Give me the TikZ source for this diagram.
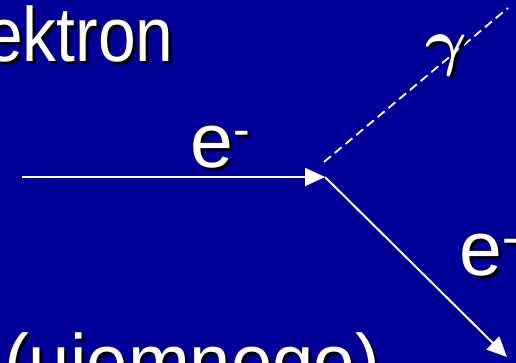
\documentclass[tikz,border=0pt]{standalone}
\usepackage{fontspec}
\setmainfont{Liberation Sans}
\usetikzlibrary{arrows.meta}
\definecolor{slidebg}{RGB}{0,0,153}
\newcommand{\elec}{e\raisebox{21pt}{\fontsize{50}{50}\selectfont -}}
\newcommand{\photon}{\scalebox{6.4}{\boldmath$\gamma$}}
\begin{document}
\begin{tikzpicture}[x=1pt, y=-1pt, >={Triangle[length=20pt,width=18pt]},
    txt/.style={font=\fontsize{77}{77}\selectfont, text=white, inner sep=0pt, anchor=base west},
    shade/.style={txt, text=black, xshift=3pt, yshift=-3pt}]
    \clip (0,0) rectangle (516,363);
    \fill[slidebg] (0,0) rectangle (516,363);
    % titles, cut by the page edge
    \node[shade] at (-15,62) {\scalebox{0.88}[1]{ektron}};
    \node[txt] (title) at (-15,62) {\scalebox{0.88}[1]{ektron}};
    \node[shade] at (4,388) {\scalebox{0.965}[1]{(ujemnego)}};
    \node[txt] (sub) at (4,388) {\scalebox{0.965}[1]{(ujemnego)}};
    % particles
    \coordinate (ein) at (22,177);
    \coordinate (vtx) at (325,177);
    \coordinate (gbeg) at (324,162);
    \coordinate (gend) at (508,8);
    \coordinate (eout) at (507,357);
    \draw[->, white, line width=2pt] (ein) -- (vtx);
    \draw[->, white, line width=2pt] (vtx) -- (eout);
    \draw[white, line width=1.8pt, dash pattern=on 9pt off 5pt] (gbeg) -- (gend);
    \node[shade] at (190,168) {\elec};
    \node[txt] (e1) at (190,168) {\elec};
    \node[shade] at (459,275) {\elec};
    \node[txt] (e2) at (459,275) {\elec};
    \node[shade, font=\normalsize] at (425,64) {\photon};
    \node[txt, font=\normalsize] (gam) at (425,64) {\photon};
\end{tikzpicture}
\end{document}
